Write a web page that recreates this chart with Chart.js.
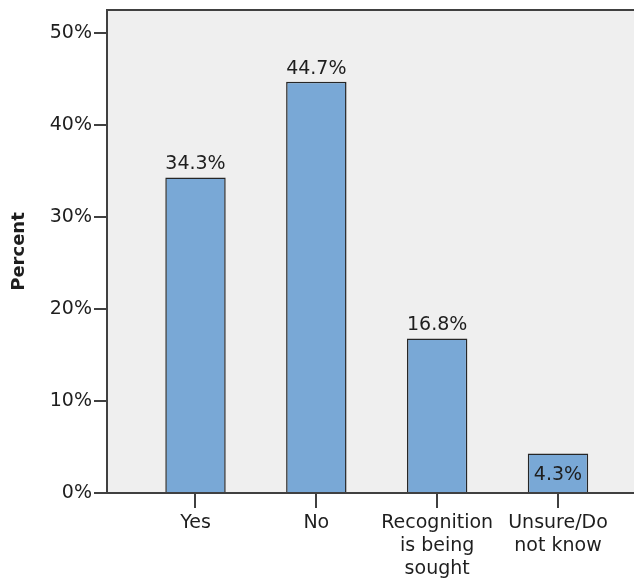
<!DOCTYPE html>
<html>
<head>
<meta charset="utf-8">
<script src="https://cdn.jsdelivr.net/npm/chart.js@4/dist/chart.umd.min.js"></script>
<style>
  html, body { margin: 0; padding: 0; background: #ffffff; }
  canvas { display: block; }
</style>
</head>
<body>
<canvas id="chart" width="634" height="579"></canvas>
<script>
// Category labels (one entry per line of the label)
const categories = [
  ['Yes'],
  ['No'],
  ['Recognition', 'is being', 'sought'],
  ['Unsure/Do', 'not know']
];
// Share of respondents per answer, in percent
const percents = [34.3, 44.7, 16.8, 4.3];
// Value axis ticks
const yTickValues = [0, 10, 20, 30, 40, 50];
const yMax = 52.5;

const FONT = 'DejaVu Sans';
const TEXT = '#1e1e1e';
const AXIS = '#404040';

// Light grey plot panel with a top frame line
const panelPlugin = {
  id: 'panel',
  beforeDraw(chart) {
    const { ctx, chartArea: a } = chart;
    ctx.save();
    ctx.fillStyle = '#efefef';
    ctx.fillRect(a.left, a.top, a.right - a.left, a.bottom - a.top);
    ctx.restore();
  },
  afterDraw(chart) {
    const { ctx, chartArea: a } = chart;
    ctx.save();
    ctx.strokeStyle = AXIS;
    ctx.lineWidth = 2;
    ctx.beginPath();
    ctx.moveTo(a.left - 1, a.top);
    ctx.lineTo(a.right, a.top);
    ctx.stroke();
    ctx.restore();
  }
};

// Percentage labels: above the bar, or centred inside short bars
const valueLabels = {
  id: 'valueLabels',
  afterDatasetsDraw(chart) {
    const { ctx } = chart;
    const meta = chart.getDatasetMeta(0);
    ctx.save();
    ctx.font = '19px "' + FONT + '"';
    ctx.fillStyle = TEXT;
    ctx.textAlign = 'center';
    ctx.textBaseline = 'alphabetic';
    meta.data.forEach((bar, i) => {
      const text = percents[i].toFixed(1) + '%';
      const h = bar.base - bar.y;
      if (h < 50) {
        ctx.fillText(text, bar.x, bar.y + h / 2 + 7);
      } else {
        ctx.fillText(text, bar.x, bar.y - 8);
      }
    });
    ctx.restore();
  }
};

new Chart(document.getElementById('chart'), {
  type: 'bar',
  data: {
    datasets: [{
      data: percents.map((v, i) => ({ x: i, y: v })),
      backgroundColor: '#79a8d6',
      borderColor: '#262626',
      borderWidth: 1.5,
      barPercentage: 0.5,
      categoryPercentage: 1
    }]
  },
  options: {
    responsive: false,
    animation: false,
    devicePixelRatio: 1,
    layout: { padding: { top: 10, left: 0, right: 0, bottom: 0 } },
    plugins: {
      legend: { display: false },
      tooltip: { enabled: false }
    },
    events: [],
    scales: {
      x: {
        type: 'linear',
        offset: false,
        min: -0.7324,
        max: 3.629,
        afterBuildTicks(scale) {
          scale.ticks = categories.map((_, i) => ({ value: i }));
        },
        afterFit(scale) {
          scale.height = 86;
          scale.paddingLeft = 0;
          scale.paddingRight = 0;
        },
        grid: {
          offset: false,
          drawOnChartArea: false,
          drawTicks: true,
          tickLength: 15,
          color: AXIS,
          lineWidth: 2
        },
        border: { display: true, color: AXIS, width: 2 },
        ticks: {
          autoSkip: false,
          maxRotation: 0,
          padding: 4,
          color: TEXT,
          font: { family: FONT, size: 19, lineHeight: 1.2 },
          callback: (v) => categories[v]
        }
      },
      y: {
        min: 0,
        max: yMax,
        afterBuildTicks(scale) {
          scale.ticks = yTickValues.map(v => ({ value: v }));
        },
        afterFit(scale) {
          scale.width = 107;
          scale.paddingTop = 0;
          scale.paddingBottom = 0;
        },
        grid: {
          drawOnChartArea: false,
          drawTicks: true,
          tickLength: 13,
          color: AXIS,
          lineWidth: 2
        },
        border: { display: true, color: AXIS, width: 2 },
        ticks: {
          padding: 2,
          color: TEXT,
          font: { family: FONT, size: 19 },
          callback: (v) => v + '%'
        },
        title: {
          display: true,
          text: 'Percent',
          color: TEXT,
          font: { family: FONT, size: 18, weight: 'bold' },
          padding: { top: 9, bottom: 0 }
        }
      }
    }
  },
  plugins: [panelPlugin, valueLabels]
});
</script>
</body>
</html>
